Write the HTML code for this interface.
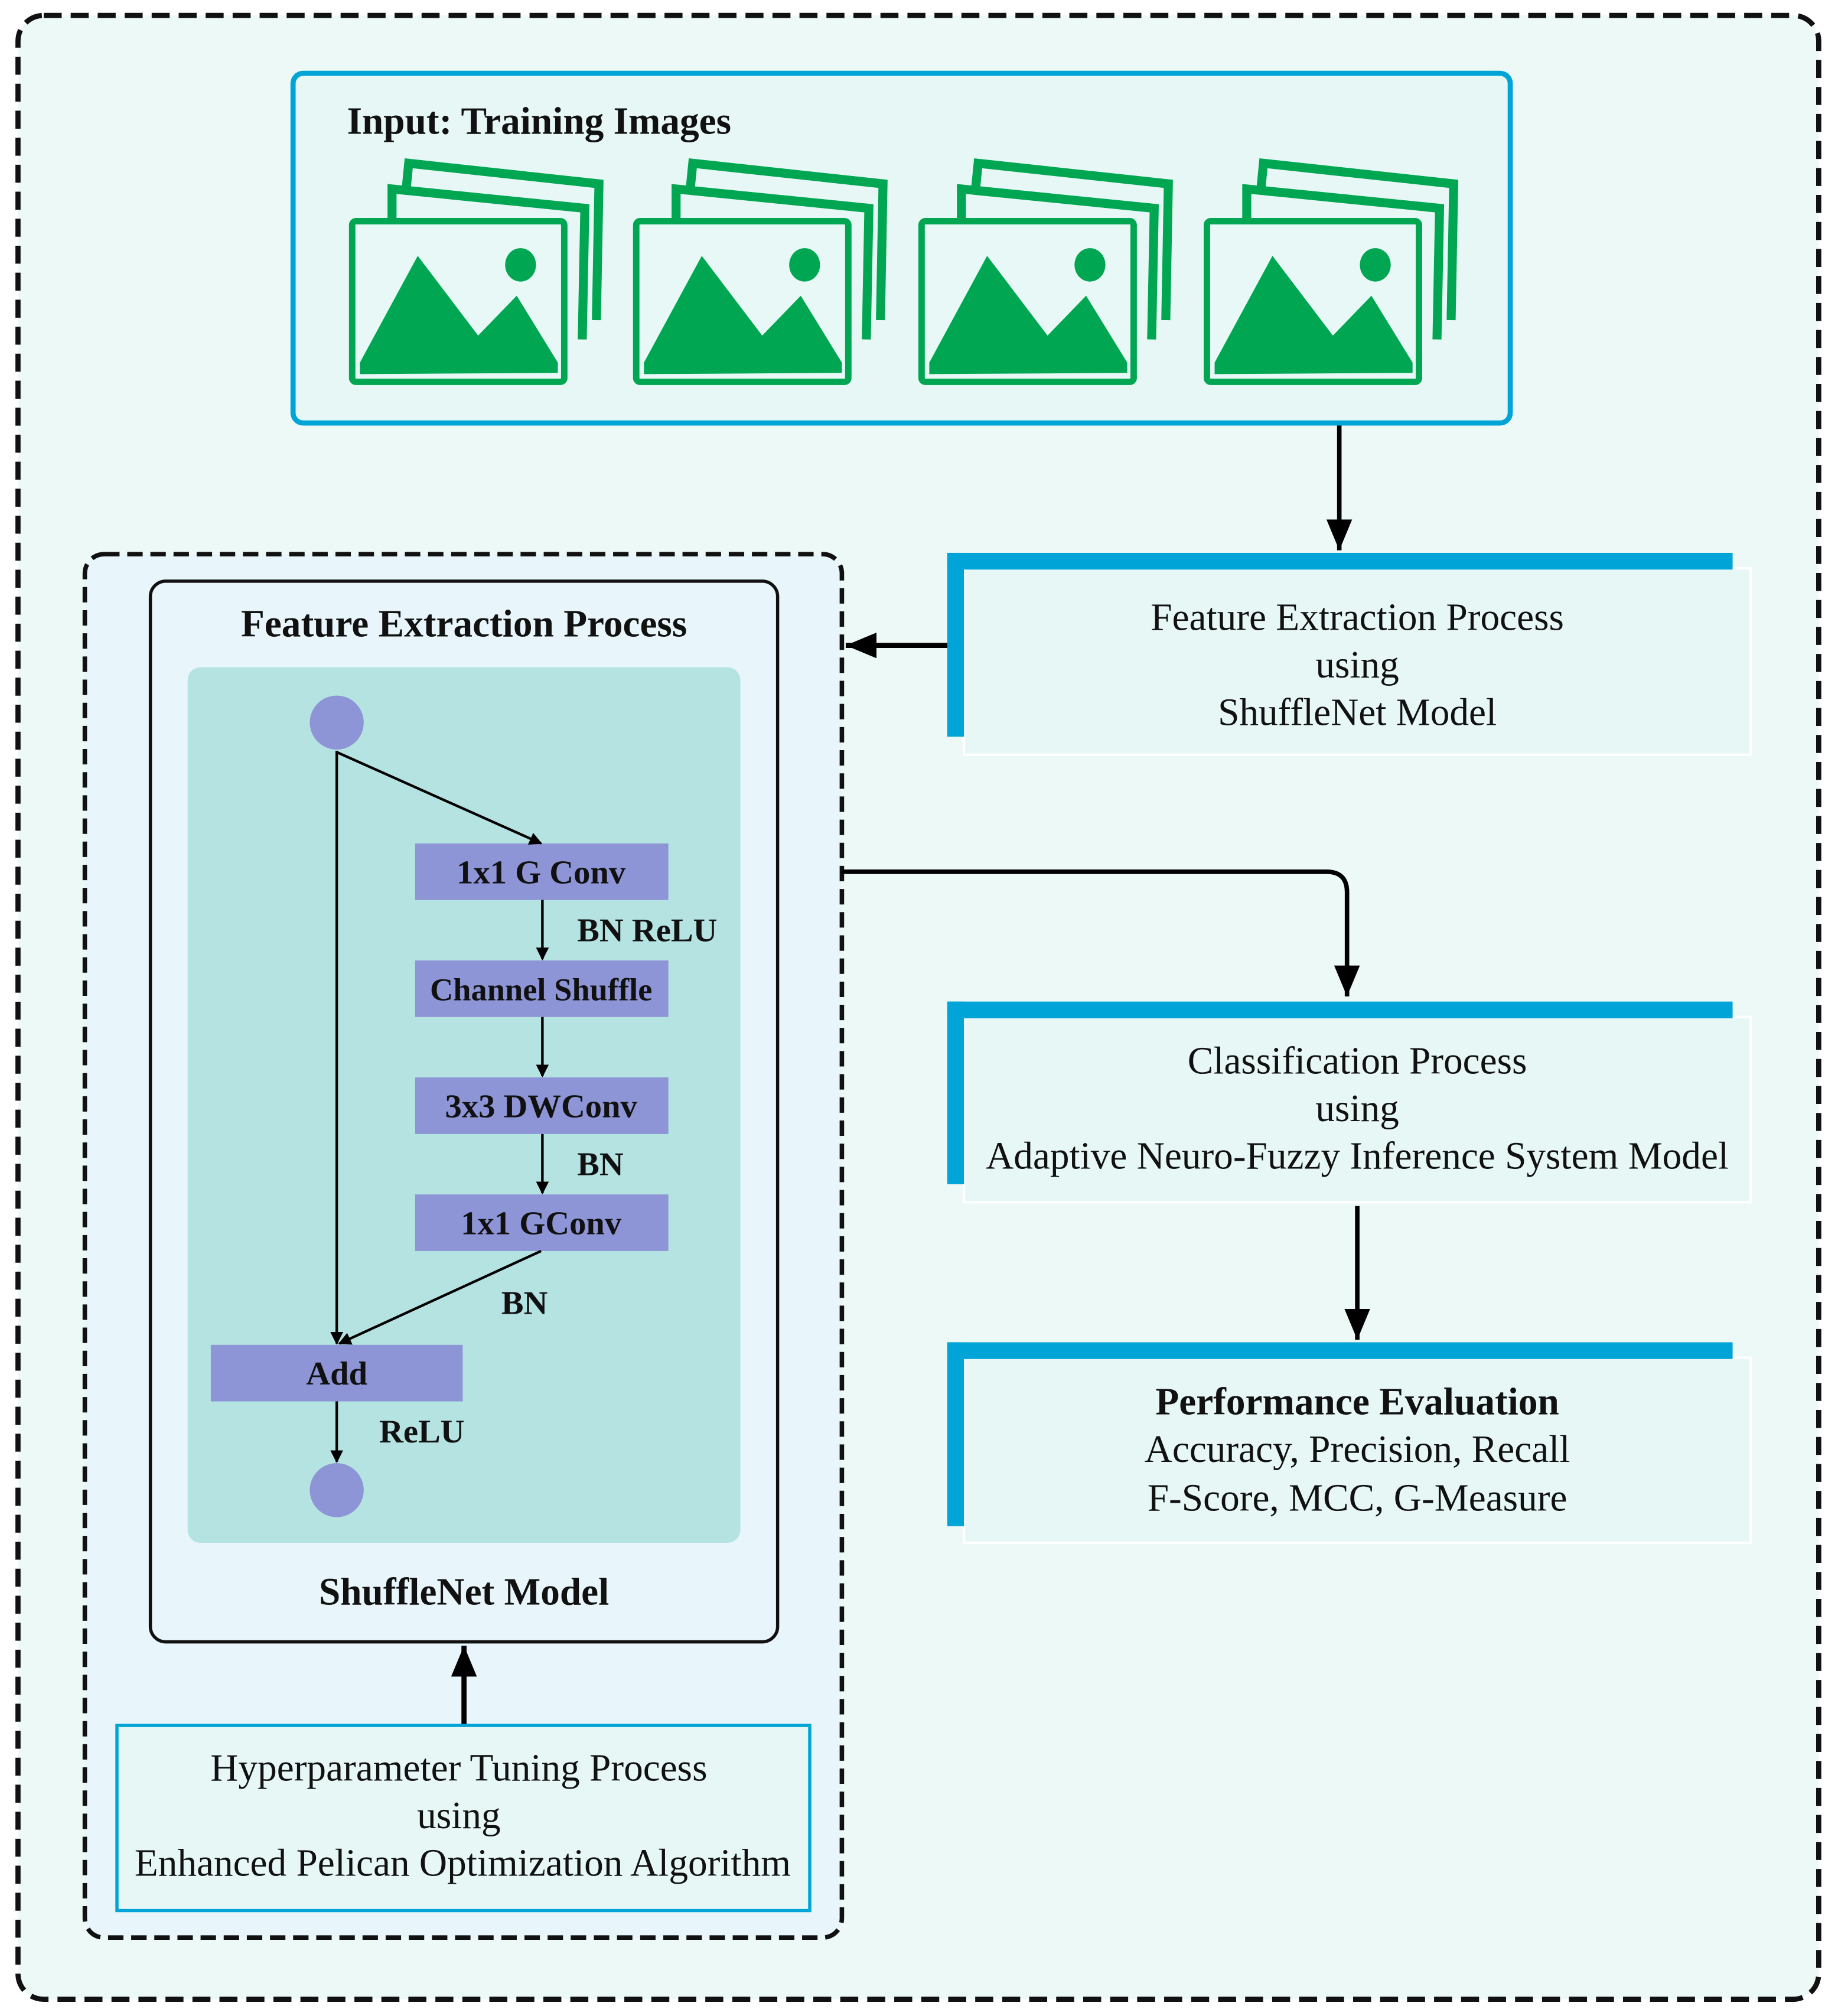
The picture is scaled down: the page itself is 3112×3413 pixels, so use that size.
<!DOCTYPE html>
<html><head><meta charset="utf-8"><style>
html,body{margin:0;padding:0;background:#fff}
svg{display:block}
text{font-family:"Liberation Serif","Times New Roman",serif;fill:#111}
</style></head><body>
<svg width="3112" height="3413" viewBox="0 0 1430 1568" preserveAspectRatio="none" xmlns="http://www.w3.org/2000/svg">
<defs>
<marker id="ah" markerWidth="10" markerHeight="10" refX="9" refY="5" orient="auto" markerUnits="userSpaceOnUse">
<path d="M0,0 L10,5 L0,10 z" fill="#000"/></marker>
<marker id="ahb" markerWidth="26" markerHeight="26" refX="24" refY="13" orient="auto" markerUnits="userSpaceOnUse">
<path d="M0,3 L24,13 L0,23 z" fill="#000"/></marker>
<g id="ico">
<polyline points="44,23 46,3 194,19 192,125" fill="none" stroke="#00a651" stroke-width="7"/>
<polyline points="33,47 33,23 183,38 181,140" fill="none" stroke="#00a651" stroke-width="7"/>
<rect x="2" y="48" width="165" height="125" rx="3" fill="#e8f8f6" stroke="#00a651" stroke-width="5"/>
<path d="M8,167 L8,158 L53,75 L100,137 L130,106 L162,158 L162,166 Z" fill="#00a651"/>
<ellipse cx="133" cy="82" rx="12" ry="13" fill="#00a651"/>
</g>
</defs>
<rect x="0" y="0" width="1430" height="1568" fill="#fff"/>
<rect x="14" y="12" width="1401" height="1543" rx="20" fill="#edf9f7" stroke="#111" stroke-width="4" stroke-dasharray="14,7"/>
<rect x="228" y="57" width="947" height="272" rx="8" fill="#e6f7f6" stroke="#00a4d6" stroke-width="4"/>
<text x="270" y="104" font-size="30" font-weight="bold">Input: Training Images</text>
<use href="#ico" transform="translate(272,124)"/>
<use href="#ico" transform="translate(493,124)"/>
<use href="#ico" transform="translate(715,124)"/>
<use href="#ico" transform="translate(937,124)"/>
<line x1="1042" y1="331" x2="1042" y2="428" stroke="#000" stroke-width="3.5" marker-end="url(#ahb)"/>
<rect x="750" y="442" width="612" height="145" fill="#e6f7f6" stroke="#fff" stroke-width="2"/>
<rect x="737" y="430" width="611" height="13" fill="#00a4d6"/>
<rect x="737" y="430" width="13" height="143" fill="#00a4d6"/>
<text x="1056" y="490" font-size="30" text-anchor="middle">Feature Extraction Process</text>
<text x="1056" y="527" font-size="30" text-anchor="middle">using</text>
<text x="1056" y="564" font-size="30" text-anchor="middle">ShuffleNet Model</text>
<line x1="737" y1="502" x2="658" y2="502" stroke="#000" stroke-width="4" marker-end="url(#ahb)"/>
<rect x="66" y="431" width="589" height="1076" rx="15" fill="#e8f6fb" stroke="#111" stroke-width="3.5" stroke-dasharray="12,6"/>
<rect x="117" y="452" width="488" height="825" rx="12" fill="#e8f6fb" stroke="#111" stroke-width="2.5"/>
<text x="361" y="495" font-size="30" font-weight="bold" text-anchor="middle">Feature Extraction Process</text>
<rect x="146" y="519" width="430" height="681" rx="10" fill="#b5e3e2"/>
<circle cx="262" cy="562" r="21" fill="#8e95d6"/>
<rect x="323" y="656" width="197" height="44" fill="#8e95d6"/>
<rect x="323" y="747" width="197" height="44" fill="#8e95d6"/>
<rect x="323" y="838" width="197" height="44" fill="#8e95d6"/>
<rect x="323" y="929" width="197" height="44" fill="#8e95d6"/>
<rect x="164" y="1046" width="196" height="44" fill="#8e95d6"/>
<text x="421" y="687" font-size="26" font-weight="bold" text-anchor="middle">1x1 G Conv</text>
<text x="421" y="778" font-size="25" font-weight="bold" text-anchor="middle">Channel Shuffle</text>
<text x="421" y="869" font-size="26" font-weight="bold" text-anchor="middle">3x3 DWConv</text>
<text x="421" y="960" font-size="26" font-weight="bold" text-anchor="middle">1x1 GConv</text>
<text x="262" y="1077" font-size="26" font-weight="bold" text-anchor="middle">Add</text>
<g stroke="#000" stroke-width="2" fill="none">
<line x1="262" y1="584" x2="262" y2="1045" marker-end="url(#ah)"/>
<line x1="262" y1="585" x2="421" y2="656" marker-end="url(#ah)"/>
<line x1="422" y1="700" x2="422" y2="746" marker-end="url(#ah)"/>
<line x1="422" y1="791" x2="422" y2="837" marker-end="url(#ah)"/>
<line x1="422" y1="882" x2="422" y2="928" marker-end="url(#ah)"/>
<line x1="421" y1="973" x2="264" y2="1045" marker-end="url(#ah)"/>
<line x1="262" y1="1090" x2="262" y2="1137" marker-end="url(#ah)"/>
</g>
<text x="449" y="732" font-size="26" font-weight="bold">BN ReLU</text>
<text x="449" y="914" font-size="26" font-weight="bold">BN</text>
<text x="390" y="1022" font-size="26" font-weight="bold">BN</text>
<text x="295" y="1122" font-size="26" font-weight="bold">ReLU</text>
<circle cx="262" cy="1159" r="21" fill="#8e95d6"/>
<text x="361" y="1248" font-size="30" font-weight="bold" text-anchor="middle">ShuffleNet Model</text>
<line x1="361" y1="1342" x2="361" y2="1280" stroke="#000" stroke-width="4" marker-end="url(#ahb)"/>
<rect x="91" y="1342" width="539" height="144" fill="#e6f7f6" stroke="#00a4d6" stroke-width="2.5"/>
<text x="357" y="1385" font-size="30" text-anchor="middle">Hyperparameter Tuning Process</text>
<text x="357" y="1422" font-size="30" text-anchor="middle">using</text>
<text x="360" y="1459" font-size="30" text-anchor="middle">Enhanced Pelican Optimization Algorithm</text>
<path d="M655,678 L1032,678 Q1048,678 1048,694 L1048,775" fill="none" stroke="#000" stroke-width="3.5" marker-end="url(#ahb)"/>
<rect x="750" y="791" width="612" height="144" fill="#e6f7f6" stroke="#fff" stroke-width="2"/>
<rect x="737" y="779" width="611" height="13" fill="#00a4d6"/>
<rect x="737" y="779" width="13" height="142" fill="#00a4d6"/>
<text x="1056" y="835" font-size="30" text-anchor="middle">Classification Process</text>
<text x="1056" y="872" font-size="30" text-anchor="middle">using</text>
<text x="1056" y="909" font-size="30" text-anchor="middle">Adaptive Neuro-Fuzzy Inference System Model</text>
<line x1="1056" y1="938" x2="1056" y2="1042" stroke="#000" stroke-width="3.5" marker-end="url(#ahb)"/>
<rect x="750" y="1056" width="612" height="144" fill="#e6f7f6" stroke="#fff" stroke-width="2"/>
<rect x="737" y="1044" width="611" height="13" fill="#00a4d6"/>
<rect x="737" y="1044" width="13" height="143" fill="#00a4d6"/>
<text x="1056" y="1100" font-size="30" font-weight="bold" text-anchor="middle">Performance Evaluation</text>
<text x="1056" y="1137" font-size="30" text-anchor="middle">Accuracy, Precision, Recall</text>
<text x="1056" y="1175" font-size="30" text-anchor="middle">F-Score, MCC, G-Measure</text>
</svg>
</body></html>
